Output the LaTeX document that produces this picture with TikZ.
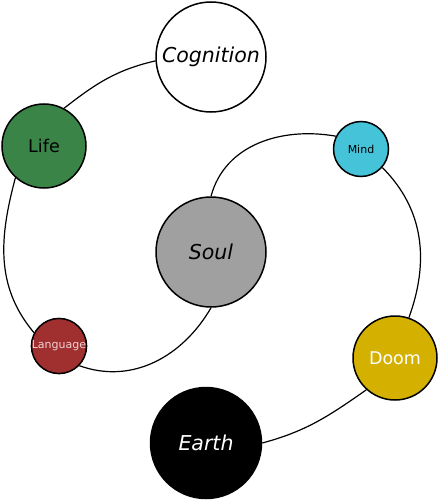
\documentclass[tikz,border=0pt]{standalone}
\usepackage{fontspec}
\setmainfont{DejaVu Sans}
\usepackage{xcolor}
\usepackage{tikz}
\usetikzlibrary{calc, positioning}

\definecolor{lifegreen}{RGB}{58,132,72}
\definecolor{mindcyan}{RGB}{69,196,217}
\definecolor{soulgray}{RGB}{160,160,160}
\definecolor{langred}{RGB}{160,48,48}
\definecolor{langtext}{RGB}{240,208,208}
\definecolor{doomgold}{RGB}{212,176,0}

\begin{document}
\begin{tikzpicture}[x=1pt, y=1pt,
    ball/.style={circle, draw=black, line width=1.5pt, inner sep=0pt},
    big/.style={font=\fontsize{20.5}{24}\selectfont\itshape},
    mid/.style={font=\fontsize{17.5}{20}\selectfont},
    small/.style={font=\fontsize{11}{13}\selectfont}]
    \useasboundingbox (0,0) rectangle (439,-500);

    % Các vòng tròn
    \node[ball, big, fill=white, minimum size=110pt] (cog) at (211,-57) {Cognition};
    \node[ball, mid, fill=lifegreen, minimum size=84pt] (life) at (44,-146) {Life};
    \node[ball, small, fill=mindcyan, minimum size=55pt] (mind) at (361,-149) {Mind};
    \node[ball, big, fill=soulgray, minimum size=110pt] (soul) at (211,-252) {Soul};
    \node[ball, small, fill=langred, text=langtext, minimum size=55pt] (lang) at (59,-346) {Language};
    \node[ball, mid, fill=doomgold, text=white, minimum size=84pt] (doom) at (395,-358) {Doom};
    \node[ball, big, fill=black, text=white, minimum size=111pt] (earth) at (206,-443) {Earth};

    % Các cung nối
    \draw[line width=1.2pt] (cog.184) to[out=193, in=38] (life.62);
    \draw[line width=1.2pt] (life.228) to[out=255, in=130] (lang.152);
    \draw[line width=1.2pt] (lang.-44) to[out=-20, in=240] (soul.270);
    \draw[line width=1.2pt] (soul.90) to[out=75, in=170] (mind.153);
    \draw[line width=1.2pt] (mind.-41) to[out=-45, in=70] (doom.71);
    \draw[line width=1.2pt] (doom.228) to[out=215, in=15] (earth.0);

\end{tikzpicture}
\end{document}
